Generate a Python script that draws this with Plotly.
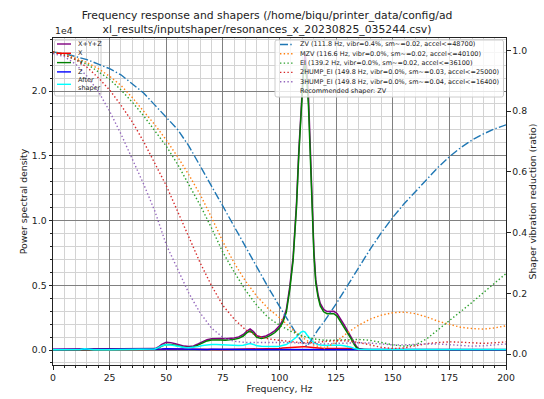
import numpy as np
import plotly.graph_objects as go

# ---- power spectral density (raw units, axis shows them scaled by 1e4) ----
freqs = [0, 5, 10, 12, 14, 16, 18, 25, 30, 35, 40, 43, 45, 46.5, 48, 50, 52, 54, 56, 58,
         60, 62, 64, 66, 68, 70, 72, 74, 76, 78, 80, 82, 84, 85.5, 87, 88.5, 90, 92, 94, 96,
         98, 100, 101.5, 103, 104.5, 106, 107.5, 108.5, 109.5, 110.5, 111.3, 112, 112.8,
         113.6, 114.4, 115.2, 116, 117, 118, 119.5, 121, 122.5, 124, 125.5, 127, 128.5, 130,
         131.5, 133, 134, 135, 137, 140, 150, 160, 170, 180, 190, 200]

psd_xyz = [55, 55, 55, 70, 105, 70, 55, 55, 55, 55, 55, 70, 110, 230, 440, 590, 570, 480, 370, 300,
           270, 310, 460, 640, 790, 860, 880, 880, 860, 870, 920, 1010, 1200, 1450, 1620, 1420, 1100, 1000, 1080, 1260,
           1500, 1870, 2330, 3100, 4850, 7150, 11300, 15300, 19000, 21500, 22900, 21800, 19600,
           15700, 11500, 7650, 5450, 4300, 3600, 3130, 2970, 2960, 2990, 2800, 2400, 1950, 1490,
           1060, 550, 260, 110, 50, 45, 45, 45, 45, 45, 45, 45]

psd_x = [10, 10, 10, 10, 10, 10, 10, 10, 10, 10, 10, 12, 20, 40, 60, 80, 75, 60, 45, 35,
         30, 30, 32, 35, 38, 40, 42, 44, 46, 48, 50, 52, 54, 56, 58, 58, 60, 62, 66, 75,
         95, 120, 150, 175, 200, 225, 250, 255, 260, 258, 250, 235, 220,
         200, 185, 170, 150, 135, 125, 115, 110, 110, 115, 120, 125, 128, 130,
         110, 70, 40, 20, 12, 10, 10, 10, 10, 10, 10, 10]

psd_y = [15, 15, 15, 15, 15, 15, 15, 15, 15, 15, 20, 30, 60, 150, 310, 420, 420, 360, 280, 220,
         200, 240, 380, 560, 700, 770, 790, 780, 760, 770, 820, 900, 1080, 1320, 1480, 1280, 980, 880, 960, 1130,
         1350, 1700, 2150, 2900, 4600, 6900, 11000, 15000, 18700, 21200, 22100, 21000, 18800,
         15000, 11000, 7300, 5200, 4100, 3400, 2950, 2800, 2780, 2800, 2600, 2200, 1750, 1300,
         900, 420, 180, 60, 20, 15, 15, 15, 15, 15, 15, 15]

psd_z = [30, 30, 30, 40, 80, 40, 30, 30, 30, 30, 30, 32, 35, 45, 70, 90, 80, 65, 50, 45,
         40, 40, 42, 45, 48, 50, 50, 50, 50, 50, 50, 50, 52, 55, 58, 55, 52, 50, 50, 50,
         50, 50, 55, 60, 65, 68, 70, 70, 70, 70, 70, 68, 66,
         65, 64, 62, 62, 60, 60, 60, 60, 60, 60, 60, 60, 60, 60,
         55, 45, 35, 30, 25, 25, 25, 25, 25, 25, 25, 25]

psd_after = [25, 25, 25, 40, 100, 40, 25, 25, 25, 25, 25, 40, 80, 180, 330, 400, 390, 320, 250, 200,
             180, 200, 260, 340, 400, 420, 420, 400, 380, 360, 340, 350, 370, 430, 500, 430, 320, 290, 270, 265,
             275, 290, 330, 420, 580, 780, 1000, 1200, 1380, 1450, 1380, 1200, 1000,
             820, 680, 580, 500, 430, 390, 360, 350, 360, 380, 390, 370, 330, 290,
             220, 120, 60, 40, 30, 30, 30, 30, 30, 30, 30, 30]

# ---- shaper vibration reduction ratios ----
zv_freqs = [0, 5, 10, 15, 20, 25, 30, 35, 40, 45, 50, 55, 60, 65, 70, 75, 80, 85, 90, 95,
            100, 105, 108, 110, 112, 114, 117, 120, 125, 130, 135, 140, 145, 150, 155, 160,
            165, 170, 175, 180, 185, 190, 195, 200]
zv_vals = [0.995, 0.99, 0.98, 0.97, 0.955, 0.94, 0.92, 0.89, 0.86, 0.82, 0.78, 0.74, 0.685,
           0.62, 0.555, 0.487, 0.42, 0.352, 0.285, 0.22, 0.157, 0.095, 0.06, 0.04, 0.025,
           0.045, 0.08, 0.11, 0.165, 0.225, 0.285, 0.345, 0.40, 0.45, 0.495, 0.535, 0.575,
           0.615, 0.65, 0.68, 0.705, 0.725, 0.742, 0.755]

shaper_freqs = [0, 5, 10, 15, 20, 25, 30, 35, 40, 45, 50, 55, 60, 65, 70, 75, 80, 85, 90, 95,
                100, 105, 110, 115, 120, 125, 130, 135, 140, 145, 150, 155, 160, 165, 170, 175,
                180, 185, 190, 195, 200]
mzv_vals = [0.995, 0.99, 0.975, 0.96, 0.94, 0.915, 0.885, 0.845, 0.80, 0.755, 0.705, 0.65, 0.59,
            0.525, 0.45, 0.37, 0.30, 0.24, 0.19, 0.15, 0.12, 0.085, 0.055, 0.03, 0.018, 0.04,
            0.07, 0.095, 0.115, 0.128, 0.136, 0.138, 0.133, 0.122, 0.108, 0.097, 0.088, 0.084,
            0.082, 0.086, 0.093]
ei_vals = [0.995, 0.985, 0.97, 0.955, 0.93, 0.905, 0.87, 0.83, 0.785, 0.735, 0.685, 0.625, 0.56,
           0.49, 0.415, 0.335, 0.27, 0.21, 0.16, 0.12, 0.095, 0.075, 0.06, 0.05, 0.045, 0.045,
           0.047, 0.048, 0.045, 0.038, 0.03, 0.026, 0.03, 0.05, 0.08, 0.108, 0.14, 0.17, 0.202,
           0.235, 0.265]
hump2_vals = [0.995, 0.985, 0.97, 0.945, 0.91, 0.87, 0.82, 0.765, 0.70, 0.63, 0.555, 0.47, 0.385,
              0.30, 0.225, 0.16, 0.115, 0.08, 0.06, 0.05, 0.045, 0.04, 0.037, 0.038, 0.042, 0.044,
              0.043, 0.038, 0.03, 0.022, 0.018, 0.02, 0.027, 0.034, 0.038, 0.04, 0.039, 0.036,
              0.035, 0.037, 0.04]
hump3_vals = [0.99, 0.98, 0.955, 0.915, 0.865, 0.80, 0.725, 0.645, 0.56, 0.47, 0.36, 0.28, 0.2,
              0.135, 0.085, 0.055, 0.042, 0.038, 0.038, 0.04, 0.04, 0.038, 0.035, 0.033, 0.033,
              0.035, 0.037, 0.037, 0.036, 0.033, 0.03, 0.03, 0.032, 0.033, 0.033, 0.03, 0.027,
              0.026, 0.027, 0.03, 0.033]

shaper_labels = [
    "ZV (111.8 Hz, vibr=0.4%, sm~=0.02, accel<=48700)",
    "MZV (116.6 Hz, vibr=0.0%, sm~=0.02, accel<=40100)",
    "EI (139.2 Hz, vibr=0.0%, sm~=0.02, accel<=36100)",
    "2HUMP_EI (149.8 Hz, vibr=0.0%, sm~=0.03, accel<=25000)",
    "3HUMP_EI (149.8 Hz, vibr=0.0%, sm~=0.04, accel<=16400)",
]
recommended = "Recommended shaper: ZV"
psd_labels = ["X+Y+Z", "X", "Y", "Z", "After<br>shaper"]

title = ("Frequency response and shapers (/home/biqu/printer_data/config/ad<br>"
         "xl_results/inputshaper/resonances_x_20230825_035244.csv)")

FONT = "DejaVu Sans"
DOT = "1.4px,2.3px"
DASHDOT = "8px,2.3px,1.4px,2.3px"
psd_colors = ["#800080", "#ff0000", "#008000", "#0000ff", "#00ffff"]
shaper_colors = ["#1f77b4", "#ff7f0e", "#2ca02c", "#d62728", "#9467bd"]
shaper_dash = [DASHDOT, DOT, DOT, DOT, DOT]

W, H = 544, 399
PL, PR, PT, PB = 53, 506, 38, 365  # plot area in pixels


def fx(x):
    return (x - PL) / (PR - PL)


def fy(y):
    return (PB - y) / (PB - PT)


fig = go.Figure()

scale = 1e4
psd_series = [psd_xyz, psd_x, psd_y, psd_z]
for vals, col in zip(psd_series, psd_colors[:4]):
    fig.add_trace(go.Scatter(x=freqs, y=np.array(vals) / scale, mode="lines",
                             line=dict(color=col, width=1.5), showlegend=False, yaxis="y"))
fig.add_trace(go.Scatter(x=freqs, y=np.array(psd_after) / scale, mode="lines",
                         line=dict(color=psd_colors[4], width=1.5), showlegend=False, yaxis="y"))

shaper_series = [(zv_freqs, zv_vals), (shaper_freqs, mzv_vals), (shaper_freqs, ei_vals),
                 (shaper_freqs, hump2_vals), (shaper_freqs, hump3_vals)]
for (fq, vals), col, dash in zip(shaper_series, shaper_colors, shaper_dash):
    fig.add_trace(go.Scatter(x=fq, y=vals, mode="lines", yaxis="y2",
                             line=dict(color=col, width=1.4, dash=dash), showlegend=False))

shapes = []
annotations = []


def rounded_box(x0p, y0p, x1p, y1p, r, layer):
    x0, x1 = fx(x0p), fx(x1p)
    y0, y1 = fy(y1p), fy(y0p)
    rx, ry = r / (PR - PL), r / (PB - PT)
    path = (f"M {x0+rx},{y1} L {x1-rx},{y1} Q {x1},{y1} {x1},{y1-ry} "
            f"L {x1},{y0+ry} Q {x1},{y0} {x1-rx},{y0} L {x0+rx},{y0} "
            f"Q {x0},{y0} {x0},{y0+ry} L {x0},{y1-ry} Q {x0},{y1} {x0+rx},{y1} Z")
    shapes.append(dict(type="path", path=path, xref="paper", yref="paper", layer=layer,
                       fillcolor="rgba(255,255,255,0.8)", line=dict(color="#cccccc", width=1)))


LEG_FONT = dict(family=FONT, size=6.5, color="#222")

# left legend (spectra)
rounded_box(54.5, 40, 101, 96, 2, "between")
left_rows = [44, 53.3, 62.6, 71.9, 84.3]
for lab, col, yy in zip(psd_labels, psd_colors, left_rows):
    shapes.append(dict(type="line", xref="paper", yref="paper", layer="above",
                       x0=fx(57), x1=fx(71), y0=fy(yy), y1=fy(yy),
                       line=dict(color=col, width=1.4)))
    annotations.append(dict(text=lab, xref="paper", yref="paper", x=fx(75.5), y=fy(yy),
                            xanchor="left", yanchor="middle", showarrow=False, align="left",
                            font=LEG_FONT))

# right legend (shapers)
rounded_box(275, 40, 503.5, 97, 2, "above")
right_rows = [44.5, 53.8, 63.1, 72.4, 81.7, 91]
for lab, col, dash, yy in zip(shaper_labels, shaper_colors, shaper_dash, right_rows):
    shapes.append(dict(type="line", xref="paper", yref="paper", layer="above",
                       x0=fx(280), x1=fx(294), y0=fy(yy), y1=fy(yy),
                       line=dict(color=col, width=1.4, dash=dash)))
    annotations.append(dict(text=lab, xref="paper", yref="paper", x=fx(297.5), y=fy(yy),
                            xanchor="left", yanchor="middle", showarrow=False, font=LEG_FONT))
annotations.append(dict(text=recommended, xref="paper", yref="paper", x=fx(297.5),
                        y=fy(right_rows[5]), xanchor="left", yanchor="middle",
                        showarrow=False, font=LEG_FONT))

# scientific offset label of the left axis
annotations.append(dict(text="1e4", xref="paper", yref="paper", x=0, y=fy(31),
                        xanchor="left", yanchor="middle", showarrow=False,
                        font=dict(family=FONT, size=9.3, color="#222")))

TICK_FONT = dict(family=FONT, size=9.3, color="#222")
y_bottom = -(PB - 350) / 129.5
y_top = (350 - PT) / 129.5
r_per = 303.5
r_bottom = -(PB - 354) / r_per
r_top = (354 - PT) / r_per

fig.update_layout(
    width=W, height=H,
    margin=dict(l=PL, r=W - PR, t=PT, b=H - PB, pad=0, autoexpand=False),
    paper_bgcolor="white", plot_bgcolor="white",
    font=dict(family=FONT, color="#222"),
    title=dict(text=title, x=267 / W, xref="container", xanchor="center",
               y=1 - 19 / H, yref="container", yanchor="middle", automargin=False,
               font=dict(family=FONT, size=10.8, color="#222")),
    xaxis=dict(range=[0, 200], tickmode="linear", tick0=0, dtick=25, automargin=False,
               ticks="outside", ticklen=3.5, tickwidth=1, tickcolor="#222",
               showgrid=True, gridcolor="#808080", gridwidth=0.8, zeroline=False,
               showline=True, linecolor="#222", linewidth=1, mirror=True,
               tickfont=TICK_FONT,
               minor=dict(tickmode="linear", tick0=0, dtick=5, ticks="outside", ticklen=2,
                          tickcolor="#222", showgrid=True, gridcolor="#d3d3d3", gridwidth=0.8),
               title=dict(text="Frequency, Hz", font=TICK_FONT, standoff=2)),
    yaxis=dict(range=[y_bottom, y_top], tickmode="linear", tick0=0, dtick=0.5, automargin=False,
               tickformat=".1f", ticks="outside", ticklen=3.5, tickcolor="#222",
               showgrid=True, gridcolor="#808080", gridwidth=0.8, zeroline=False,
               showline=True, linecolor="#222", linewidth=1,
               tickfont=TICK_FONT,
               minor=dict(tickmode="linear", tick0=0, dtick=0.1, ticks="outside", ticklen=2,
                          tickcolor="#222", showgrid=True, gridcolor="#d3d3d3", gridwidth=0.8),
               title=dict(text="Power spectral density", font=TICK_FONT, standoff=2)),
    yaxis2=dict(range=[r_bottom, r_top], overlaying="y", side="right", automargin=False,
                tickmode="linear", tick0=0, dtick=0.2, tickformat=".1f",
                ticks="outside", ticklen=3.5, tickcolor="#222", showgrid=False,
                zeroline=False, showline=True, linecolor="#222", linewidth=1,
                tickfont=TICK_FONT,
                title=dict(text="Shaper vibration reduction (ratio)", font=TICK_FONT, standoff=3)),
    shapes=shapes,
    annotations=annotations,
    showlegend=False,
)

fig.write_html("out.html")
